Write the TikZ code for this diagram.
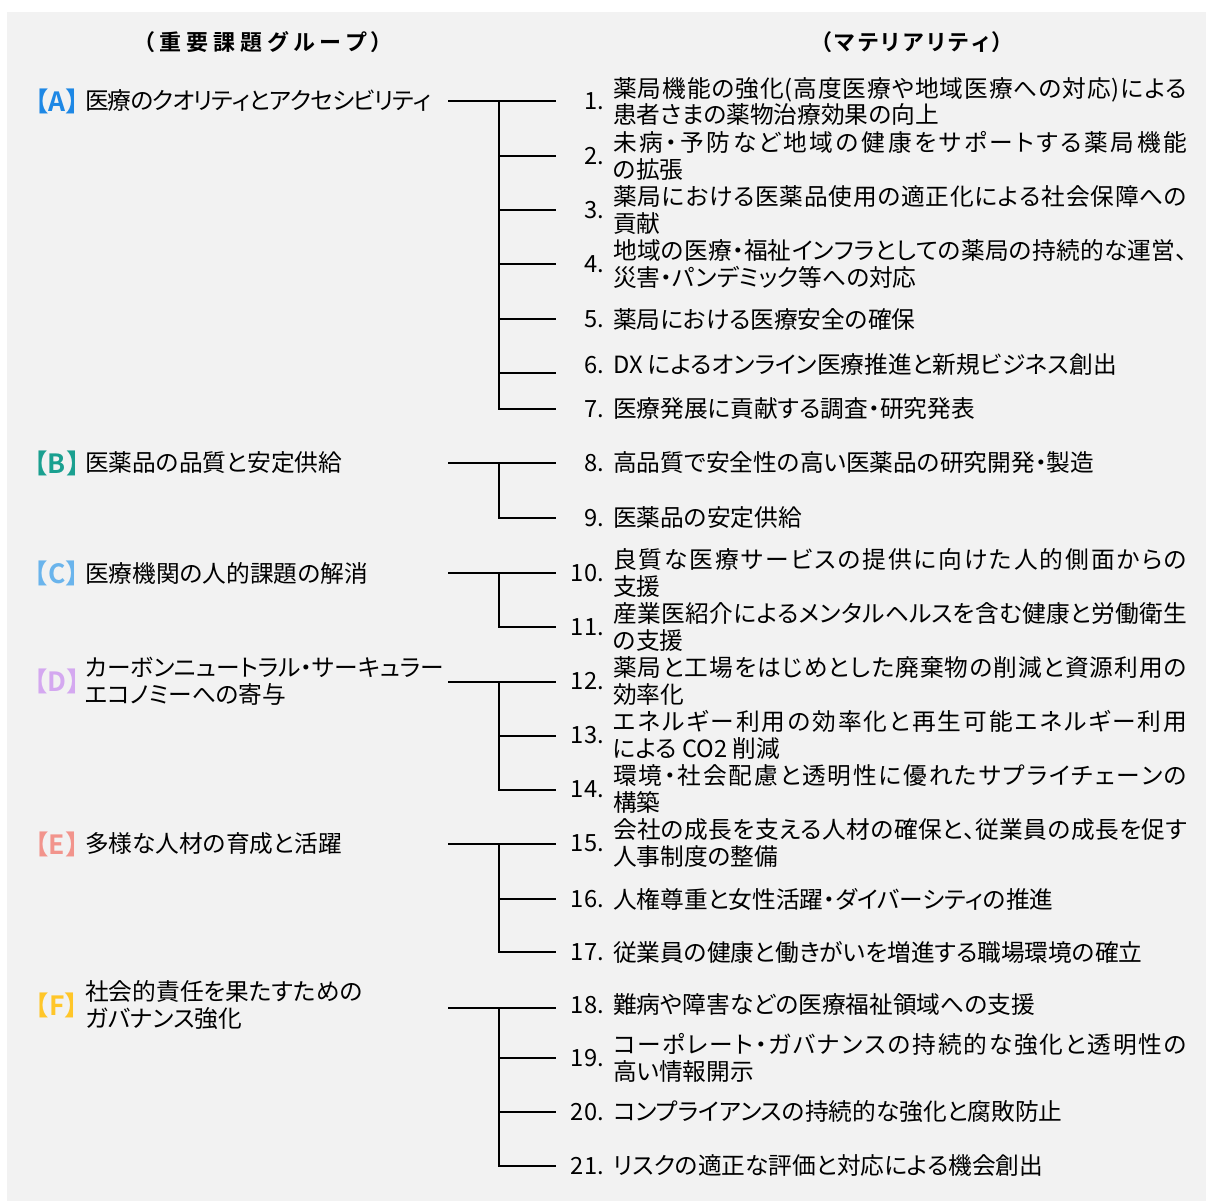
\documentclass[tikz,border=0pt]{standalone}
\usepackage{fontspec}
\setmainfont{Noto Sans CJK JP}[RawFeature=+palt, BoldFont={Noto Sans CJK JP Bold}]
\newfontfamily\bfnp{Noto Sans CJK JP Bold}
\definecolor{bg}{HTML}{F2F2F2}
\definecolor{cA}{HTML}{1E88E5}
\definecolor{cB}{HTML}{1AA090}
\definecolor{cC}{HTML}{6AB4EC}
\definecolor{cD}{HTML}{D4A8F0}
\definecolor{cE}{HTML}{F2948C}
\definecolor{cF}{HTML}{FFC629}
\newcommand\fsz{\fontsize{23.7}{26.5}\selectfont}
\newcommand\hsz{\fontsize{22}{26}\selectfont\bfseries}
\newcommand\spr[2]{\hbox to #1{\sprA#2\relax}}
\def\sprA#1{#1\sprB}
\def\sprB#1{\ifx\relax#1\else\hskip 0pt plus 1fil minus 4pt\relax#1\expandafter\sprB\fi}
\tikzset{
  conn/.style={line width=1.6pt, black},
  num/.style={anchor=east, inner sep=0pt, font=\fsz},
  txt/.style={anchor=west, inner sep=0pt, align=left, font=\fsz},
  brk/.style={anchor=center, inner sep=0pt, font={\fontsize{26.5}{30}\bfnp}},
  hdr/.style={anchor=center, inner sep=0pt, font=\hsz},
}
\begin{document}
\begin{tikzpicture}[x=1pt,y=-1pt]
\useasboundingbox (0,0) rectangle (1206,1201);
\fill[bg] (7,12) rectangle (1206,1201);
% headers
\node[hdr] (h1) at (263,42) {\spr{239pt}{（重要課題グループ）}};
\node[hdr] (h2) at (912,42) {\spr{182pt}{（マテリアリティ）}};
% group labels
\node[brk,text=cA] (bA) at (57,101) {【A】};
\node[txt] (gA) at (85,101) {\spr{346pt}{医療のクオリティとアクセシビリティ}};
\node[brk,text=cB] (bB) at (57,463) {【B】};
\node[txt] (gB) at (85,463) {医薬品の品質と安定供給};
\node[brk,text=cC] (bC) at (57,573) {【C】};
\node[txt] (gC) at (85,573) {医療機関の人的課題の解消};
\node[brk,text=cD] (bD) at (57,681) {【D】};
\node[txt] (gD) at (85,681) {カーボンニュートラル・サーキュラー\\エコノミーへの寄与};
\node[brk,text=cE] (bE) at (57,844) {【E】};
\node[txt] (gE) at (85,844) {多様な人材の育成と活躍};
\node[brk,text=cF] (bF) at (57,1005) {【F】};
\node[txt] (gF) at (85,1005) {社会的責任を果たすための\\ガバナンス強化};
% items
\node[num] (n1) at (604,101.5) {1.};
\node[txt] (t1) at (613,101.5) {\spr{574pt}{薬局機能の強化(高度医療や地域医療への対応)による}\\患者さまの薬物治療効果の向上};
\node[num] (n2) at (604,156) {2.};
\node[txt] (t2) at (613,156) {\spr{574pt}{未病・予防など地域の健康をサポートする薬局機能}\\の拡張};
\node[num] (n3) at (604,210) {3.};
\node[txt] (t3) at (613,210) {\spr{574pt}{薬局における医薬品使用の適正化による社会保障への}\\貢献};
\node[num] (n4) at (604,264) {4.};
\node[txt] (t4) at (613,264) {\spr{574pt}{地域の医療・福祉インフラとしての薬局の持続的な運営、}\\災害・パンデミック等への対応};
\node[num] (n5) at (604,319) {5.};
\node[txt] (t5) at (613,319) {薬局における医療安全の確保};
\node[num] (n6) at (604,365) {6.};
\node[txt] (t6) at (613,365) {DX によるオンライン医療推進と新規ビジネス創出};
\node[num] (n7) at (604,409) {7.};
\node[txt] (t7) at (613,409) {医療発展に貢献する調査・研究発表};
\node[num] (n8) at (604,463) {8.};
\node[txt] (t8) at (613,463) {高品質で安全性の高い医薬品の研究開発・製造};
\node[num] (n9) at (604,518) {9.};
\node[txt] (t9) at (613,518) {医薬品の安定供給};
\node[num] (n10) at (604,573) {10.};
\node[txt] (t10) at (613,573) {\spr{574pt}{良質な医療サービスの提供に向けた人的側面からの}\\支援};
\node[num] (n11) at (604,627) {11.};
\node[txt] (t11) at (613,627) {\spr{574pt}{産業医紹介によるメンタルヘルスを含む健康と労働衛生}\\の支援};
\node[num] (n12) at (604,681) {12.};
\node[txt] (t12) at (613,681) {\spr{574pt}{薬局と工場をはじめとした廃棄物の削減と資源利用の}\\効率化};
\node[num] (n13) at (604,735) {13.};
\node[txt] (t13) at (613,735) {\spr{574pt}{エネルギー利用の効率化と再生可能エネルギー利用}\\による CO2 削減};
\node[num] (n14) at (604,789) {14.};
\node[txt] (t14) at (613,789) {\spr{574pt}{環境・社会配慮と透明性に優れたサプライチェーンの}\\構築};
\node[num] (n15) at (604,843) {15.};
\node[txt] (t15) at (613,843) {\spr{574pt}{会社の成長を支える人材の確保と、従業員の成長を促す}\\人事制度の整備};
\node[num] (n16) at (604,899) {16.};
\node[txt] (t16) at (613,899) {人権尊重と女性活躍・ダイバーシティの推進};
\node[num] (n17) at (604,952) {17.};
\node[txt] (t17) at (613,952) {従業員の健康と働きがいを増進する職場環境の確立};
\node[num] (n18) at (604,1005) {18.};
\node[txt] (t18) at (613,1005) {難病や障害などの医療福祉領域への支援};
\node[num] (n19) at (604,1058) {19.};
\node[txt] (t19) at (613,1058) {\spr{574pt}{コーポレート・ガバナンスの持続的な強化と透明性の}\\高い情報開示};
\node[num] (n20) at (604,1112) {20.};
\node[txt] (t20) at (613,1112) {コンプライアンスの持続的な強化と腐敗防止};
\node[num] (n21) at (604,1166) {21.};
\node[txt] (t21) at (613,1166) {リスクの適正な評価と対応による機会創出};
% connector coordinates
\coordinate (sA) at (448,101); \coordinate (jA) at (499,101);
\coordinate (e1) at (556,101); \coordinate (e2) at (556,156);
\coordinate (e3) at (556,210); \coordinate (e4) at (556,264);
\coordinate (e5) at (556,319); \coordinate (e6) at (556,373);
\coordinate (e7) at (556,409);
\coordinate (sB) at (448,463); \coordinate (jB) at (499,463);
\coordinate (e8) at (556,463); \coordinate (e9) at (556,518);
\coordinate (sC) at (448,573); \coordinate (jC) at (499,573);
\coordinate (e10) at (556,573); \coordinate (e11) at (556,627);
\coordinate (sD) at (448,682); \coordinate (jD) at (499,682);
\coordinate (e12) at (556,682); \coordinate (e13) at (556,736);
\coordinate (e14) at (556,790);
\coordinate (sE) at (448,844); \coordinate (jE) at (499,844);
\coordinate (e15) at (556,844); \coordinate (e16) at (556,899);
\coordinate (e17) at (556,952);
\coordinate (sF) at (448,1008); \coordinate (jF) at (499,1008);
\coordinate (e18) at (556,1008); \coordinate (e19) at (556,1058);
\coordinate (e20) at (556,1112); \coordinate (e21) at (556,1166);
% connectors
\draw[conn] (sA) -- (e1);
\foreach \k in {2,...,7} \draw[conn] (jA) |- (e\k);
\draw[conn] (sB) -- (e8);
\draw[conn] (jB) |- (e9);
\draw[conn] (sC) -- (e10);
\draw[conn] (jC) |- (e11);
\draw[conn] (sD) -- (e12);
\foreach \k in {13,14} \draw[conn] (jD) |- (e\k);
\draw[conn] (sE) -- (e15);
\foreach \k in {16,17} \draw[conn] (jE) |- (e\k);
\draw[conn] (sF) -- (e18);
\foreach \k in {19,20,21} \draw[conn] (jF) |- (e\k);
\end{tikzpicture}
\end{document}
